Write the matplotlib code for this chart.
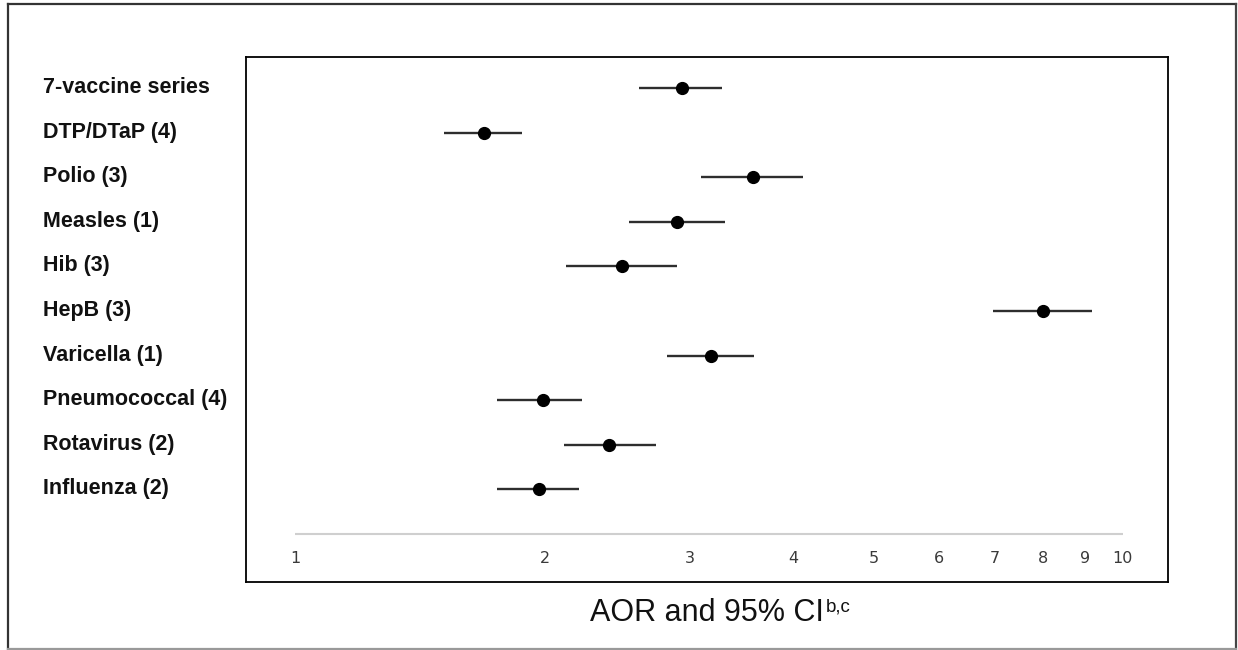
import matplotlib
matplotlib.use("Agg")
import matplotlib.pyplot as plt
import matplotlib.transforms as mtransforms
from matplotlib.lines import Line2D
from matplotlib.ticker import NullLocator
import numpy as np

# ---- data ----
categories = ["7-vaccine series", "DTP/DTaP (4)", "Polio (3)", "Measles (1)", "Hib (3)",
              "HepB (3)", "Varicella (1)", "Pneumococcal (4)", "Rotavirus (2)", "Influenza (2)"]
aor   = [2.93, 1.69, 3.57, 2.89, 2.48, 8.01, 3.18, 1.99, 2.39, 1.97]
ci_lo = [2.60, 1.51, 3.09, 2.53, 2.12, 6.97, 2.81, 1.75, 2.11, 1.75]
ci_hi = [3.28, 1.88, 4.11, 3.30, 2.89, 9.18, 3.58, 2.22, 2.73, 2.20]
tick_values = [1, 2, 3, 4, 5, 6, 7, 8, 9, 10]
tick_labels = ["1", "2", "3", "4", "5", "6", "7", "8", "9", "10"]
xlabel_main = "AOR and 95% CI"
xlabel_sup = "b,c"

W, H = 1238, 650
fig = plt.figure(figsize=(W / 100, H / 100), dpi=100)
fig.patch.set_facecolor("white")

# axes box in pixel coords
left, right, top, bottom = 246, 1168, 57, 582
ax = fig.add_axes([left / W, (H - bottom) / H, (right - left) / W, (bottom - top) / H])
ax.set_xscale("log")
ax.set_xlim(0.8714, 11.336)
rows = np.arange(len(categories))
ax.set_ylim(11.076, -0.695)

aor_a = np.array(aor)
xerr = [aor_a - np.array(ci_lo), np.array(ci_hi) - aor_a]
ax.errorbar(aor_a, rows, xerr=xerr, fmt='o', color='black', ecolor='#2e2e2e',
            elinewidth=1.7, capsize=0, ms=8.5, zorder=3)

# custom axis line inside the box
axis_row = len(categories)
ax.plot([tick_values[0], tick_values[-1]], [axis_row, axis_row], color='#cfcfcf', lw=1.5,
        solid_capstyle='butt', zorder=1)

# tick labels
tick_tr = mtransforms.offset_copy(ax.transData, fig=fig, x=0, y=-29, units='dots')
for v, lab in zip(tick_values, tick_labels):
    ax.text(v, axis_row, lab, transform=tick_tr, ha='center', va='baseline',
            fontsize=11.5, color='#3a3a3a', family='DejaVu Sans')

ax.set_xticks([])
ax.set_yticks([])
ax.xaxis.set_minor_locator(NullLocator())
for sp in ax.spines.values():
    sp.set_color('black')
    sp.set_linewidth(1.3)

# category labels
lab_tr = mtransforms.blended_transform_factory(fig.transFigure, ax.transData)
lab_tr = mtransforms.offset_copy(lab_tr, fig=fig, x=0, y=-5, units='dots')
for r, c in zip(rows, categories):
    ax.text(43 / W, r, c, transform=lab_tr, ha='left', va='baseline', fontsize=15.5,
            fontweight='bold', family='Liberation Sans', color='#111111', clip_on=False)

# x label: main text + smaller superscript
renderer = fig.canvas.get_renderer()
main_t = fig.text(0, (H - 621) / H, xlabel_main, ha='left', va='baseline', fontsize=22,
                  family='Liberation Sans', color='#111111')
sup_t = fig.text(0, (H - 629 + 18) / H, xlabel_sup, ha='left', va='baseline', fontsize=13.5,
                 family='Liberation Sans', color='#111111')
wm = main_t.get_window_extent(renderer).width
ws = sup_t.get_window_extent(renderer).width
x0 = 720 - (wm + 2 + ws) / 2
main_t.set_x(x0 / W)
sup_t.set_x((x0 + wm + 2) / W)
sup_t.set_y((H - 611) / H)

# outer border
def px_line(x0, y0, x1, y1, color, lw):
    fig.add_artist(Line2D([x0 / W, x1 / W], [(H - y0) / H, (H - y1) / H],
                          transform=fig.transFigure, color=color, lw=lw))

px_line(8, 4, 1236, 4, '#333333', 1.6)
px_line(8, 4, 8, 649, '#333333', 1.6)
px_line(1236, 4, 1236, 649, '#444444', 1.6)
px_line(8, 648.5, 1236, 648.5, '#999999', 1.6)

fig.savefig("out.png", dpi=100)
